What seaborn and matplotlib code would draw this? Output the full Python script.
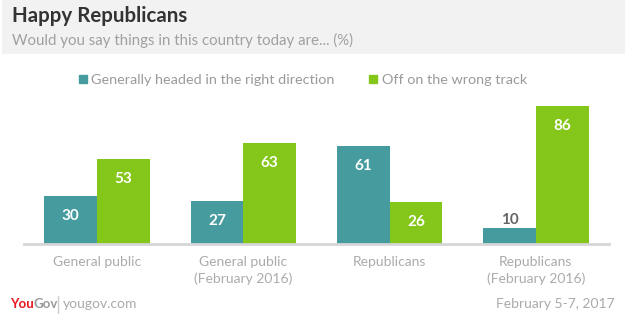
import matplotlib
matplotlib.use("Agg")
import matplotlib.pyplot as plt
import matplotlib.patches as mpatches
import seaborn as sns
import pandas as pd

categories = ["General public", "General public\n(February 2016)",
              "Republicans", "Republicans\n(February 2016)"]
series_names = ["Generally headed in the right direction", "Off on the wrong track"]
right_direction = [30, 27, 61, 10]
wrong_track = [53, 63, 26, 86]

title = "Happy Republicans"
subtitle = "Would you say things in this country today are... (%)"
date_text = "February 5-7, 2017"

teal = "#469b9e"
green = "#84c71a"

df = pd.DataFrame({
    "group": categories * 2,
    "series": [series_names[0]] * 4 + [series_names[1]] * 4,
    "value": right_direction + wrong_track,
})

sns.set_theme(style="white")
plt.rcParams["font.family"] = ["Lato", "DejaVu Sans"]

W, H = 625, 334
fig = plt.figure(figsize=(W / 100, H / 100), dpi=100)
fig.patch.set_facecolor("white")

# header band
fig.patches.append(mpatches.Rectangle((2 / W, 1 - 54 / H), 1 - 2 / W, 54 / H,
                                      transform=fig.transFigure, facecolor="#f2f2f2",
                                      edgecolor="none", zorder=0))
fig.text(12 / W, 1 - 16 / H, title, fontsize=14.8, fontweight="bold",
         color="#333333", va="center", ha="left")
fig.text(12 / W, 1 - 40 / H, subtitle, fontsize=10.8, color="#a0a0a0",
         va="center", ha="left")

# plotting area: baseline at y=244px, 86 -> y=106px
px_per_unit = 138 / 86
ax_top_px, base_px = 100, 244
ax = fig.add_axes([24 / W, (H - base_px) / H, (609 - 24) / W, (base_px - ax_top_px) / H])
sns.barplot(data=df, x="group", y="value", hue="series", palette=[teal, green],
            width=0.72, gap=0, saturation=1, linewidth=0, ax=ax, legend=False)
ax.set_ylim(0, (base_px - ax_top_px) / px_per_unit)
ax.set_xlim(-0.5, 3.5)
ax.set_xlabel("")
ax.set_ylabel("")
ax.set_yticks([])
for s in ["left", "right", "top"]:
    ax.spines[s].set_visible(False)
ax.spines["bottom"].set_color("#d6d6d6")
ax.spines["bottom"].set_linewidth(2)
ax.tick_params(axis="x", length=0, pad=9, labelsize=10, labelcolor="#ababab")
for lbl in ax.get_xticklabels():
    lbl.set_linespacing(1.35)
    lbl.set_va("top")

# value labels: inside the bar top, or above it for short bars
for cont in ax.containers:
    for bar in cont:
        v = bar.get_height()
        x = bar.get_x() + bar.get_width() / 2
        if v < 15:
            ax.annotate(f"{v:.0f}", (x, v), xytext=(0, 5.5), textcoords="offset points",
                        ha="center", va="center", fontsize=11, fontweight="bold",
                        color="#666666")
        else:
            ax.annotate(f"{v:.0f}", (x, v), xytext=(0, -14.5), textcoords="offset points",
                        ha="center", va="center", fontsize=11, fontweight="bold",
                        color="white")

# legend
handles = [mpatches.Patch(color=teal, label=series_names[0]),
           mpatches.Patch(color=green, label=series_names[1])]
fig.legend(handles=handles, loc="center left", bbox_to_anchor=(66 / W, 1 - 80 / H),
           ncol=2, frameon=False, fontsize=10.4, handlelength=0.55, handleheight=0.55,
           handletextpad=0.3, columnspacing=2.4, labelcolor="#9a9a9a")

# footer
you = fig.text(10 / W, 1 - 304 / H, "You", fontsize=9.5, fontweight="bold", color="#e8171f",
               va="center", ha="left")
fig.canvas.draw()
you_end = you.get_window_extent().x1 / W
fig.text(you_end, 1 - 304 / H, "Gov", fontsize=9.5, fontweight="bold", color="#999999",
         va="center", ha="left")
fig.lines.append(plt.Line2D([58 / W, 58 / W], [1 - 296 / H, 1 - 313 / H],
                            transform=fig.transFigure, color="#cccccc", lw=1))
fig.text(63 / W, 1 - 304 / H, "yougov.com", fontsize=10, color="#aaaaaa",
         va="center", ha="left")
fig.text(615 / W, 1 - 304 / H, date_text, fontsize=10, color="#aaaaaa",
         va="center", ha="right")

fig.savefig("out.png", dpi=100, facecolor="white")
